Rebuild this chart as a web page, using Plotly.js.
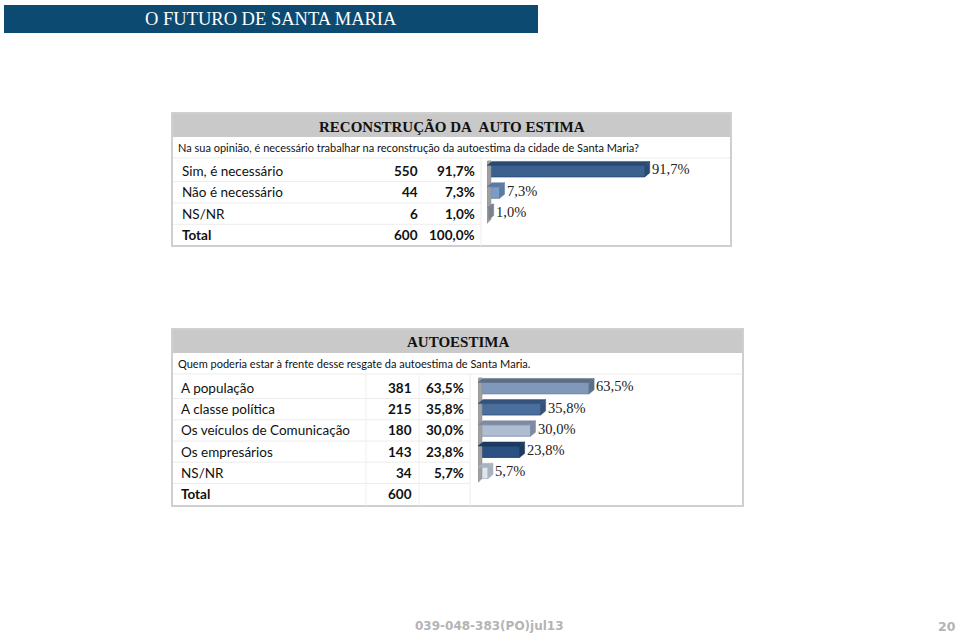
<!DOCTYPE html>
<html><head><meta charset="utf-8">
<script src="https://cdn.plot.ly/plotly-3.0.1.min.js"></script>
<style>html,body{margin:0;padding:0;background:#fff}#chart{width:960px;height:635px}</style>
</head><body><div id="chart"></div>
<script>
// ---- Data ----
const pageTitle = "O FUTURO DE SANTA MARIA";
const footerCode = "039-048-383(PO)jul13";
const pageNumber = "20";

const t1Title = "RECONSTRUÇÃO DA&nbsp; AUTO ESTIMA";
const t1Question = "Na sua opinião, é necessário trabalhar na reconstrução da autoestima da cidade de Santa Maria?";
const t1Labels = ["Sim, é necessário", "Não é necessário", "NS/NR"];
const t1Counts = [550, 44, 6];
const t1Pcts = [91.7, 7.3, 1.0];
const t1Total = 600;
const t1TotalPct = "100,0%";
const t1Colors = ["#3a6190", "#7b9cc4", "#9aa4b2"];
const t1Sides = ["#2a4a72", "#5a7aa2", "#7a8290"];

const t2Title = "AUTOESTIMA";
const t2Question = "Quem poderia estar à frente desse resgate da autoestima de Santa Maria.";
const t2Labels = ["A população", "A classe política", "Os veículos de Comunicação", "Os empresários", "NS/NR"];
const t2Counts = [381, 215, 180, 143, 34];
const t2Pcts = [63.5, 35.8, 30.0, 23.8, 5.7];
const t2Total = 600;
const t2Colors = ["#8099bb", "#4b6f9c", "#aebdd2", "#2c5081", "#dfe6ef"];
const t2Sides = ["#5c6f88", "#34527a", "#7d8ba0", "#1d3a60", "#a9b3c0"];

// ---- helpers ----
const W = 960, H = 635;
const px = x => x / W;
const py = y => 1 - y / H;
const fmt = v => v.toFixed(1).replace('.', ',') + '%';

const shapes = [];
const annotations = [];

function rectPx(x0, y0, x1, y1, fill, line, lw) {
  shapes.push({type: 'rect', xref: 'paper', yref: 'paper', x0: px(x0), x1: px(x1), y0: py(y1), y1: py(y0),
    fillcolor: fill, line: {color: line || 'rgba(0,0,0,0)', width: lw || 0}, layer: 'below'});
}
function hline(x0, x1, y, color) {
  shapes.push({type: 'line', xref: 'paper', yref: 'paper', x0: px(x0), x1: px(x1), y0: py(y), y1: py(y),
    line: {color: color, width: 1}, layer: 'below'});
}
function vline(x, y0, y1, color) {
  shapes.push({type: 'line', xref: 'paper', yref: 'paper', x0: px(x), x1: px(x), y0: py(y1), y1: py(y0),
    line: {color: color, width: 1}, layer: 'below'});
}
function textPx(x, y, text, opts) {
  annotations.push(Object.assign({xref: 'paper', yref: 'paper', x: px(x), y: py(y), text: text, showarrow: false,
    xanchor: 'left', yanchor: 'middle', font: {family: 'Lato, sans-serif', size: 13.5, color: '#111'}}, opts || {}));
}

// Title bar
rectPx(4, 5, 538, 33, '#0c4a72');
textPx(271, 19, pageTitle, {xanchor: 'center', font: {family: 'Liberation Serif, serif', size: 18.5, color: '#fff'}});

// Footer
textPx(489, 626, '<b>' + footerCode + '</b>', {xanchor: 'center', font: {family: 'DejaVu Sans, sans-serif', size: 12, color: '#b4b4b4'}});
textPx(958, 626, '<b>' + pageNumber + '</b>', {xanchor: 'right', font: {family: 'DejaVu Sans, sans-serif', size: 12.5, color: '#b4b4b4'}});

// ---- Box 1 ----
rectPx(172, 113, 731, 246, '#ffffff', '#cfcfcf', 2);
rectPx(173, 114, 730, 137, '#c9c9c9');
textPx(452, 126, '<b>' + t1Title + '</b>', {xanchor: 'center', font: {family: 'Liberation Serif, serif', size: 15, color: '#111'}});
textPx(176, 147, t1Question, {font: {family: 'Lato, sans-serif', size: 11, color: '#111'}});
const r1y0 = 171, r1step = 21.3;
hline(173, 730, 158, '#ececec');
for (let i = 0; i <= t1Labels.length; i++) {
  const y = r1y0 + i * r1step;
  if (i < t1Labels.length) {
    textPx(180, y, t1Labels[i]);
    textPx(420, y, '<b>' + t1Counts[i] + '</b>', {xanchor: 'right'});
    textPx(477, y, '<b>' + fmt(t1Pcts[i]) + '</b>', {xanchor: 'right'});
    hline(173, 481, y + r1step / 2, '#ececec');
  } else {
    textPx(180, y, '<b>Total</b>');
    textPx(420, y, '<b>' + t1Total + '</b>', {xanchor: 'right'});
    textPx(477, y, '<b>' + t1TotalPct + '</b>', {xanchor: 'right'});
  }
}
vline(481, 158, 246, '#ececec');

// ---- Box 2 ----
rectPx(172, 329, 743, 506, '#ffffff', '#cfcfcf', 2);
rectPx(173, 330, 742, 353, '#c9c9c9');
textPx(458, 342, '<b>' + t2Title + '</b>', {xanchor: 'center', font: {family: 'Liberation Serif, serif', size: 15, color: '#111'}});
textPx(176, 363, t2Question, {font: {family: 'Lato, sans-serif', size: 11, color: '#111'}});
const r2y0 = 388, r2step = 21.2;
hline(173, 742, 374, '#ececec');
for (let i = 0; i <= t2Labels.length; i++) {
  const y = r2y0 + i * r2step;
  if (i < t2Labels.length) {
    textPx(179, y, t2Labels[i]);
    textPx(414, y, '<b>' + t2Counts[i] + '</b>', {xanchor: 'right'});
    textPx(466, y, '<b>' + fmt(t2Pcts[i]) + '</b>', {xanchor: 'right'});
    hline(173, 470, y + r2step / 2, '#ececec');
  } else {
    textPx(179, y, '<b>Total</b>');
    textPx(414, y, '<b>' + t2Total + '</b>', {xanchor: 'right'});
  }
}
vline(366, 374, 506, '#f0f0f0');
vline(419, 374, 506, '#f0f0f0');
vline(470, 374, 506, '#ececec');

// ---- 3D faces for bars (in data coords) ----
function addDepth(values, sides, xr, yr, pxPerUnitX, pxPerCat) {
  const dx = 5 / pxPerUnitX, dy = 4 / pxPerCat, w = 0.27;
  const n = values.length;
  shapes.push({type: 'path', xref: xr, yref: yr, layer: 'above',
    path: `M 0 ${-0.45} L ${dx*0.8} ${-0.45 - dy} L ${dx*0.8} ${n - 0.55 - dy} L 0 ${n - 0.55} Z`,
    fillcolor: '#a0a0a0', line: {color: '#8a8a8a', width: 0.5}});
  values.forEach((v, i) => {
    const top = i - w, bot = i + w;
    shapes.push({type: 'path', xref: xr, yref: yr, layer: 'above',
      path: `M 0 ${top} L ${v} ${top} L ${v + dx} ${top - dy} L ${dx} ${top - dy} Z`,
      fillcolor: sides[i], line: {color: sides[i], width: 0.5}});
    shapes.push({type: 'path', xref: xr, yref: yr, layer: 'above',
      path: `M ${v} ${top} L ${v + dx} ${top - dy} L ${v + dx} ${bot - dy} L ${v} ${bot} Z`,
      fillcolor: sides[i], line: {color: sides[i], width: 0.5}});
  });
}
addDepth(t1Pcts, t1Sides, 'x', 'y', 172 / 100, 21.3);
addDepth(t2Pcts, t2Sides, 'x2', 'y2', 175 / 100, 21.2);

// value labels
const lblFont = {family: 'Liberation Serif, serif', size: 14.5, color: '#222'};
t1Pcts.forEach((v, i) => annotations.push({xref: 'x', yref: 'y', x: v, y: i - 0.08, xanchor: 'left', yanchor: 'middle', xshift: 5,
  text: fmt(v), showarrow: false, font: lblFont}));
t2Pcts.forEach((v, i) => annotations.push({xref: 'x2', yref: 'y2', x: v, y: i - 0.08, xanchor: 'left', yanchor: 'middle', xshift: 5,
  text: fmt(v), showarrow: false, font: lblFont}));

const traces = [
  {type: 'bar', orientation: 'h', x: t1Pcts, y: t1Pcts.map((_, i) => i), width: 0.54,
   marker: {color: t1Colors, line: {color: t1Sides, width: 0.8}}, xaxis: 'x', yaxis: 'y', hoverinfo: 'skip'},
  {type: 'bar', orientation: 'h', x: t2Pcts, y: t2Pcts.map((_, i) => i), width: 0.54,
   marker: {color: t2Colors, line: {color: t2Sides, width: 0.8}}, xaxis: 'x2', yaxis: 'y2', hoverinfo: 'skip'}
];

const layout = {
  width: W, height: H, margin: {l: 0, r: 0, t: 0, b: 0},
  paper_bgcolor: '#ffffff', plot_bgcolor: 'rgba(0,0,0,0)', showlegend: false,
  xaxis: {domain: [px(487), px(659)], range: [0, 100], visible: false, fixedrange: true},
  yaxis: {domain: [py(224.5), py(160.5)], range: [2.5, -0.5], visible: false, fixedrange: true, anchor: 'x'},
  xaxis2: {domain: [px(478), px(653)], range: [0, 100], visible: false, fixedrange: true, anchor: 'y2'},
  yaxis2: {domain: [py(483.5), py(377.5)], range: [4.5, -0.5], visible: false, fixedrange: true, anchor: 'x2'},
  shapes: shapes, annotations: annotations
};
Plotly.newPlot('chart', traces, layout, {displayModeBar: false, staticPlot: true});
</script></body></html>
